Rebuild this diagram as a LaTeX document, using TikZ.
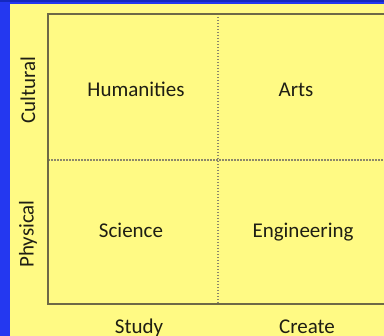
\documentclass[tikz,border=0pt]{standalone}
\usepackage{fontspec}
\setmainfont{Carlito}
\definecolor{bgblue}{RGB}{36,56,240}
\definecolor{topblue}{RGB}{20,40,190}
\definecolor{paper}{RGB}{255,250,132}
\definecolor{frame}{RGB}{110,105,70}
\definecolor{txt}{RGB}{30,30,20}
\begin{document}
\begin{tikzpicture}[x=1pt,y=-1pt,
  lbl/.style={text=txt,font=\fontsize{21}{24}\selectfont,inner sep=0pt,anchor=base},
  side/.style={text=txt,font=\fontsize{21}{24}\selectfont,inner sep=0pt,rotate=90},
  sep/.style={draw=frame!80,line width=1.2pt,dash pattern=on 1.5pt off 1.5pt}]
\useasboundingbox (0,0) rectangle (384,336);
\fill[bgblue] (0,0) rectangle (384,336);
\fill[topblue] (0,0) rectangle (384,2);
\fill[paper] (10,4) rectangle (384,336);
\coordinate (tl) at (48,14);
\coordinate (bl) at (48,304);
\coordinate (tr) at (384,14);
\coordinate (br) at (384,304);
\coordinate (vt) at (218,14);
\coordinate (vb) at (218,304);
\coordinate (hl) at (48,160);
\coordinate (hr) at (384,160);
\draw[sep] (vt) -- (vb);
\draw[sep] (hl) -- (hr);
\draw[frame,line width=1.5pt] (tr) -- (tl) -- (bl) -- (br);
\node[lbl] (hum) at (136,97) {Humanities};
\node[lbl] (arts) at (296,97) {Arts};
\node[lbl] (sci) at (131,238) {Science};
\node[lbl] (eng) at (303,238) {Engineering};
\node[side] (cul) at (28,90) {Cultural};
\node[side] (phy) at (28,234) {Physical};
\node[lbl] (stu) at (139,334) {Study};
\node[lbl] (cre) at (307,334) {Create};
\end{tikzpicture}
\end{document}
